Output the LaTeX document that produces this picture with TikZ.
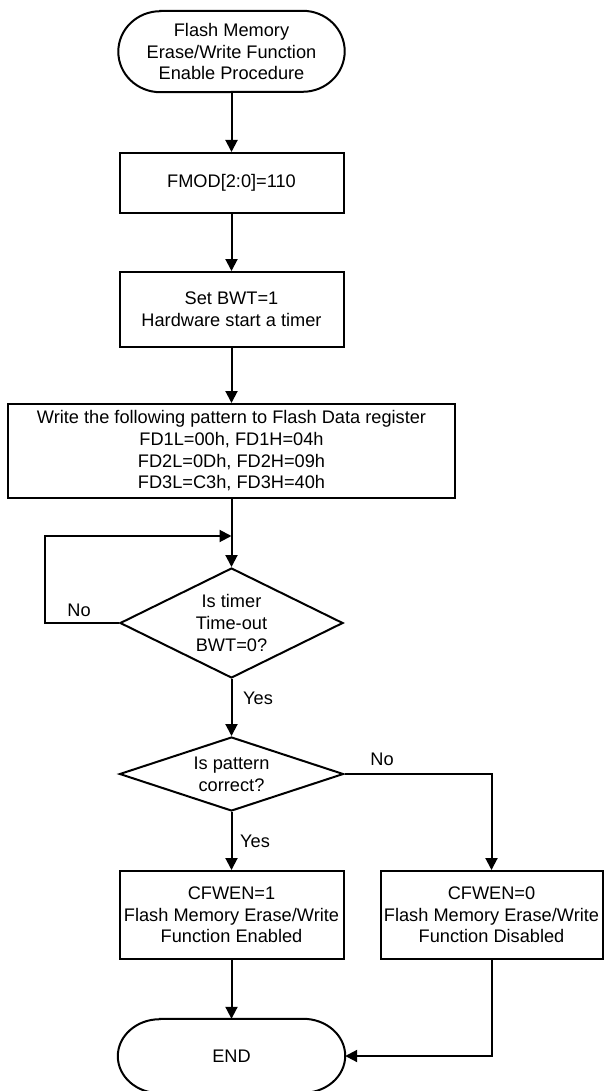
\documentclass[tikz,border=0pt]{standalone}
\usepackage{fontspec}
\setmainfont{Liberation Sans}
\usetikzlibrary{arrows.meta,shapes.geometric}
\begin{document}
\begin{tikzpicture}[x=1pt,y=-1pt,
  every node/.style={font=\fontsize{18.2}{21.7}\selectfont, align=center, inner sep=0pt},
  proc/.style={draw, line width=2pt, rectangle},
  term/.style={rectangle},
  decision/.style={draw, line width=2pt, diamond, inner sep=0pt},
  link/.style={line width=2pt},
  flow/.style={link, -{Triangle[length=12pt,width=12pt]}},
  lbl/.style={}
]
\useasboundingbox (0,0) rectangle (603,1091);

% terminals (outline drawn below) and process boxes
\node[term, minimum width=226pt, minimum height=81pt] (start) at (231.5,51.5)
  {Flash Memory\\Erase/Write Function\\Enable Procedure};
\node[proc, minimum width=224pt, minimum height=60pt] (fmod) at (231.5,183) {FMOD[2:0]=110};
\node[proc, minimum width=224pt, minimum height=75pt] (bwt) at (231.5,309.5)
  {Set BWT=1\\Hardware start a timer};
\node[proc, minimum width=447pt, minimum height=94pt] (pat) at (231.5,451)
  {Write the following pattern to Flash Data register\\FD1L=00h, FD1H=04h\\FD2L=0Dh, FD2H=09h\\FD3L=C3h, FD3H=40h};
\node[decision, minimum width=223pt, minimum height=110pt, shape aspect=2] (tmo) at (231.5,623)
  {Is timer\\Time-out\\BWT=0?};
\node[decision, minimum width=224pt, minimum height=74pt, shape aspect=3] (chk) at (231.5,774)
  {Is pattern\\correct?};
\node[proc, minimum width=224pt, minimum height=88pt] (en) at (231.5,915)
  {CFWEN=1\\Flash Memory Erase/Write\\Function Enabled};
\node[proc, minimum width=222pt, minimum height=88pt] (dis) at (491.5,915)
  {CFWEN=0\\Flash Memory Erase/Write\\Function Disabled};
\node[term, minimum width=227pt, minimum height=74pt] (end) at (231.5,1056) {END};

% rounded terminal outlines
\draw[link] ([xshift=42pt]start.north west) -- ([xshift=-42pt]start.north east)
  arc[start angle=90, end angle=-90, x radius=42pt, y radius=40.5pt]
  -- ([xshift=42pt]start.south west)
  arc[start angle=270, end angle=90, x radius=42pt, y radius=40.5pt] -- cycle;
\draw[link] ([xshift=42pt]end.north west) -- ([xshift=-42pt]end.north east)
  arc[start angle=90, end angle=-90, x radius=42pt, y radius=37pt]
  -- ([xshift=42pt]end.south west)
  arc[start angle=270, end angle=90, x radius=42pt, y radius=37pt] -- cycle;

% branch labels
\node[lbl] (no1) at (79,610) {No};
\node[lbl] (yes1) at (258,698) {Yes};
\node[lbl] (no2) at (382,759) {No};
\node[lbl] (yes2) at (255,841) {Yes};

% connectors
\coordinate (merge) at (231.5,536);
\draw[flow] (start) -- (fmod);
\draw[flow] (fmod) -- (bwt);
\draw[flow] (bwt) -- (pat);
\draw[flow] (pat) -- (tmo);
\draw[flow] (tmo.west) -- ++(-74,0) |- (merge);
\draw[flow] (tmo) -- (chk);
\draw[flow] (chk) -- (en);
\draw[flow] (chk.east) -| (dis.north);
\draw[flow] (en) -- (end);
\draw[flow] (dis.south) |- (end.east);
\end{tikzpicture}
\end{document}
